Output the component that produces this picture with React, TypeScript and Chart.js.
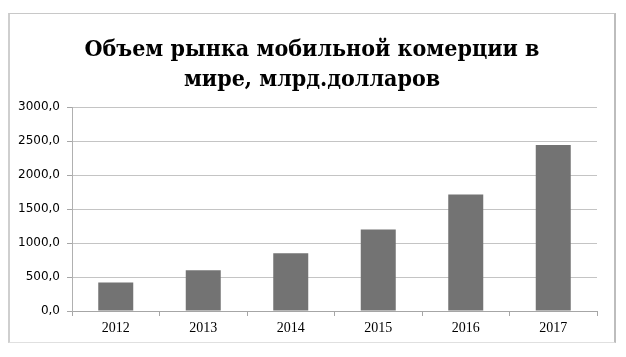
import React, { useEffect, useRef } from "react";
import { Chart, registerables } from "chart.js";

Chart.register(...registerables);

const titleLines = ["Объем рынка мобильной комерции в", "мире, млрд.долларов"];
const categories = ["2012", "2013", "2014", "2015", "2016", "2017"];
const values = [420, 600, 850, 1200, 1715, 2440];
const yMin = 0;
const yMax = 3000;
const yStep = 500;

export default function App() {
  const canvasRef = useRef<HTMLCanvasElement | null>(null);

  useEffect(() => {
    const canvas = canvasRef.current;
    if (!canvas) return;
    const chart = new Chart(canvas, {
      type: "bar",
      data: {
        labels: categories,
        datasets: [
          {
            data: values,
            backgroundColor: "#737373",
            borderWidth: 0,
            barPercentage: 0.8,
            categoryPercentage: 0.5,
          },
        ],
      },
      options: {
        responsive: false,
        animation: false,
        devicePixelRatio: 1,
        layout: { padding: { left: 0, right: 29, top: 107, bottom: 0 } },
        plugins: {
          legend: { display: false },
          title: { display: false },
          tooltip: { enabled: false },
        },
        scales: {
          x: {
            offset: true,
            grid: {
              offset: true,
              drawOnChartArea: false,
              drawTicks: true,
              tickLength: 5,
              color: "#a6a6a6",
            },
            border: { color: "#a6a6a6", width: 1 },
            ticks: {
              color: "#000000",
              padding: 4,
              font: { family: "'Liberation Serif', serif", size: 14 },
            },
            afterFit: (scale: any) => {
              scale.height = 46;
            },
          },
          y: {
            min: yMin,
            max: yMax,
            grid: {
              color: "#c4c4c4",
              tickColor: "#a6a6a6",
              tickLength: 5,
              lineWidth: 1,
            },
            border: { color: "#b0b0b0", width: 1 },
            ticks: {
              stepSize: yStep,
              padding: 7,
              color: "#000000",
              font: { family: "'DejaVu Sans', sans-serif", size: 12 },
              callback: (v: any) => Number(v).toFixed(1).replace(".", ","),
            },
            afterFit: (scale: any) => {
              scale.width = 72;
            },
          },
        },
      },
    });
    return () => chart.destroy();
  }, []);

  return (
    <div style={{ position: "absolute", left: 0, top: 0, width: 626, height: 357, background: "#ffffff" }}>
      <div
        style={{
          position: "absolute",
          left: 8,
          top: 13,
          width: 608,
          height: 330,
          boxSizing: "border-box",
          borderTop: "1px solid #c8c8c8",
          borderLeft: "2px solid #cfcfcf",
          borderRight: "2px solid #bdbdbd",
          borderBottom: "1px solid #e0e0e0",
        }}
      />
      <canvas
        ref={canvasRef}
        width={626}
        height={357}
        style={{ position: "absolute", left: 0, top: 0, width: 626, height: 357 }}
      />
      <div
        style={{
          position: "absolute",
          left: 8,
          top: 33,
          width: 608,
          textAlign: "center",
          fontFamily: "'DejaVu Serif Condensed', 'DejaVu Serif', serif",
          fontWeight: "bold",
          fontSize: 23,
          lineHeight: "30px",
          color: "#000000",
        }}
      >
        {titleLines.map((t, i) => (
          <div key={i}>{t}</div>
        ))}
      </div>
    </div>
  );
}
